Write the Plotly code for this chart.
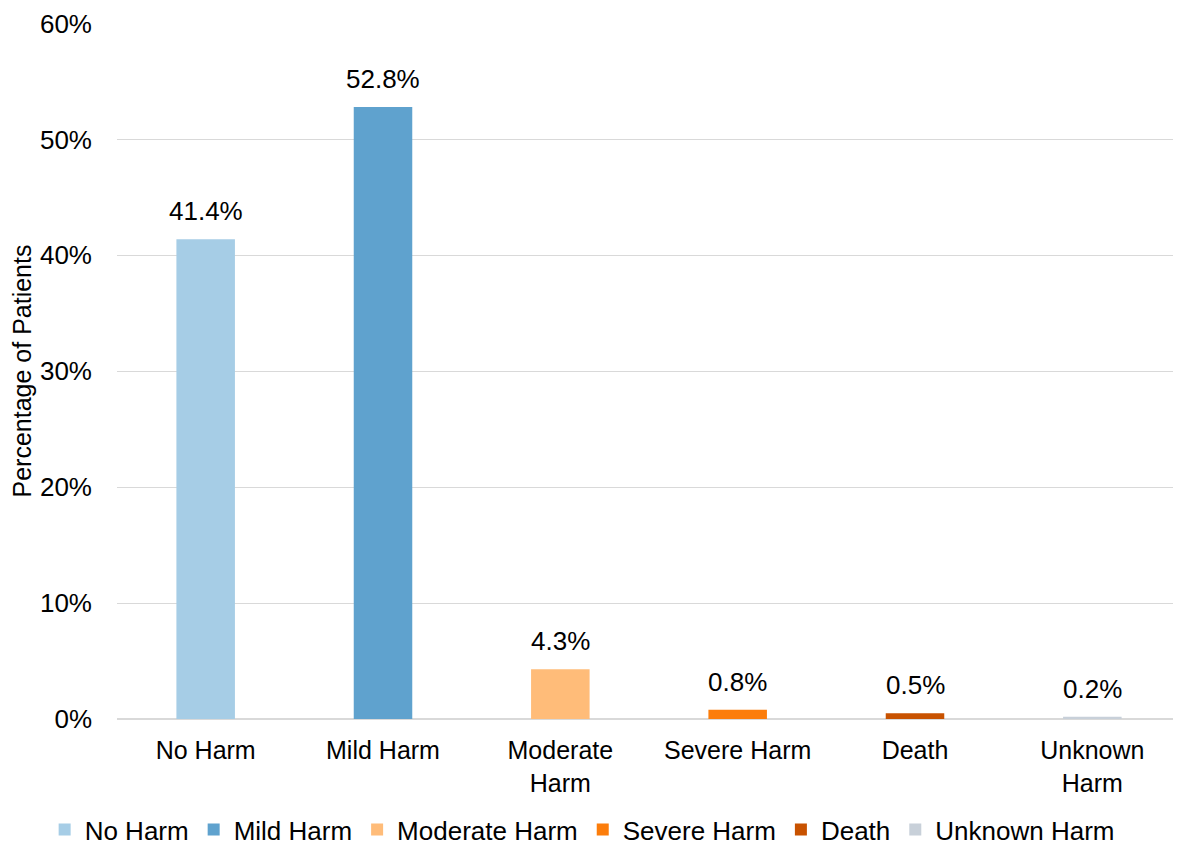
import plotly.graph_objects as go

CATEGORIES = ["No Harm", "Mild Harm", "Moderate Harm", "Severe Harm", "Death", "Unknown Harm"]
TICK_LABELS = ["No Harm", "Mild Harm", "Moderate<br>Harm", "Severe Harm", "Death", "Unknown<br>Harm"]
PERCENTAGES = [41.4, 52.8, 4.3, 0.8, 0.5, 0.2]
COLORS = ["#a6cde6", "#5fa2ce", "#ffbc79", "#fc7d0b", "#c85200", "#c8d0d9"]

fig = go.Figure()
for cat, value, color in zip(CATEGORIES, PERCENTAGES, COLORS):
    fig.add_trace(
        go.Bar(
            x=[cat],
            y=[value / 100],
            name=cat,
            marker={"color": color, "line": {"width": 0}},
            width=0.33,
        )
    )

# value labels sit a little higher above the bars than plotly's outside text
for cat, value in zip(CATEGORIES, PERCENTAGES):
    fig.add_annotation(
        x=cat,
        y=value / 100,
        text=f"{value:.1f}%",
        showarrow=False,
        yanchor="bottom",
        yshift=11,
        font={"size": 26, "color": "#000000"},
    )

# the page body adds an 8px margin, so the figure is drawn 8px smaller
fig.update_layout(
    width=1173,
    height=841,
    margin={"l": 109, "r": 0, "t": 15, "b": 130, "autoexpand": False},
    paper_bgcolor="#ffffff",
    plot_bgcolor="#ffffff",
    barmode="overlay",
    font={"family": "Liberation Sans, Arial, sans-serif", "size": 26, "color": "#000000"},
    # legend anchored left of the plot area so it may use the full figure width
    legend={
        "orientation": "h",
        "y": -0.159,
        "yanchor": "middle",
        "x": -0.068,
        "xanchor": "left",
        "font": {"size": 26},
        "itemwidth": 30,
    },
    showlegend=True,
)
fig.update_xaxes(
    tickvals=CATEGORIES,
    ticktext=TICK_LABELS,
    showgrid=False,
    showline=False,
    ticks="",
    ticklabelstandoff=14,
    tickfont={"size": 25},
)
fig.update_yaxes(
    range=[0, 0.6005],
    tickvals=[0, 0.1, 0.2, 0.3, 0.4, 0.5, 0.6],
    tickformat=".0%",
    showgrid=True,
    gridcolor="#d9d9d9",
    gridwidth=1,
    zeroline=True,
    zerolinecolor="#d9d9d9",
    zerolinewidth=2,
    ticks="",
    ticklabelstandoff=24,
    tickfont={"size": 26},
    title={"text": "Percentage of Patients", "font": {"size": 25}, "standoff": 9},
)

fig.write_html("out.html")
